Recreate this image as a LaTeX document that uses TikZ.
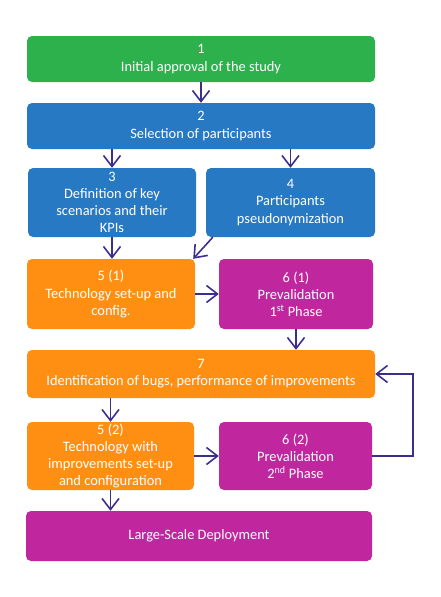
\documentclass[tikz,border=0pt]{standalone}
\usepackage{fontspec}
\setmainfont{Carlito}
\usetikzlibrary{arrows.meta}
\definecolor{cgreen}{RGB}{44,177,76}
\definecolor{cblue}{RGB}{40,121,196}
\definecolor{corange}{RGB}{255,143,18}
\definecolor{cmag}{RGB}{192,38,158}
\definecolor{carrow}{RGB}{59,47,140}
\tikzset{
  box/.style={rounded corners=5pt, minimum width=#1, align=center, text=white,
    inner sep=0pt, font=\fontsize{14.4}{17.2}\selectfont},
  conn/.style={draw=carrow, line width=1.6pt, -{Straight Barb[length=11pt, width=17pt, line width=1.6pt]}},
}
\begin{document}
\begin{tikzpicture}[x=1pt, y=-1pt]
\useasboundingbox (0,0) rectangle (441,597);
\node[box=348pt, minimum height=46pt, fill=cgreen] (b1) at (201,59) {1\\Initial approval of the study};
\node[box=348pt, minimum height=46pt, fill=cblue] (b2) at (201,126) {2\\Selection of participants};
\node[box=168pt, minimum height=69pt, fill=cblue] (b3) at (112,202.5) {3\\Definition of key\\scenarios and their\\KPIs};
\node[box=169pt, minimum height=69pt, fill=cblue] (b4) at (290.5,202.5) {4\\Participants\\pseudonymization};
\node[box=168pt, minimum height=70pt, fill=corange] (b51) at (111,294) {5 (1)\\Technology set-up and\\config.};
\node[box=154pt, minimum height=70pt, fill=cmag] (b61) at (296,294) {6 (1)\\Prevalidation\\1\textsuperscript{st} Phase};
\node[box=348pt, minimum height=48pt, fill=corange] (b7) at (201,374) {7\\Identification of bugs, performance of improvements};
\node[box=167pt, minimum height=68pt, fill=corange] (b52) at (110.5,456) {5 (2)\\Technology with\\improvements set-up\\and configuration};
\node[box=153pt, minimum height=68pt, fill=cmag] (b62) at (295.5,456) {6 (2)\\Prevalidation\\2\textsuperscript{nd} Phase};
\node[box=346pt, minimum height=50pt, fill=cmag] (lsd) at (199,536) {Large-Scale Deployment};
\draw[conn] (b1.south) -- (b2.north);
\draw[conn] (b2.south -| b3.north) -- (b3.north);
\draw[conn] (b2.south -| b4.north) -- (b4.north);
\draw[conn] (b3.south) -- (b3.south |- b51.north);
\draw[conn] ([xshift=7pt]b4.south west) -- ([xshift=-2pt]b51.north east);
\draw[conn] (b51.east) -- (b61.west);
\draw[conn] (b61.south) -- (b61.south |- b7.north);
\draw[conn] (b52.north |- b7.south) -- (b52.north);
\draw[conn] (b52.east) -- (b62.west);
\draw[conn] (b62.east) -- ++(41pt,0) |- (b7.east);
\draw[conn] (b52.south) -- (b52.south |- lsd.north);
\end{tikzpicture}
\end{document}
